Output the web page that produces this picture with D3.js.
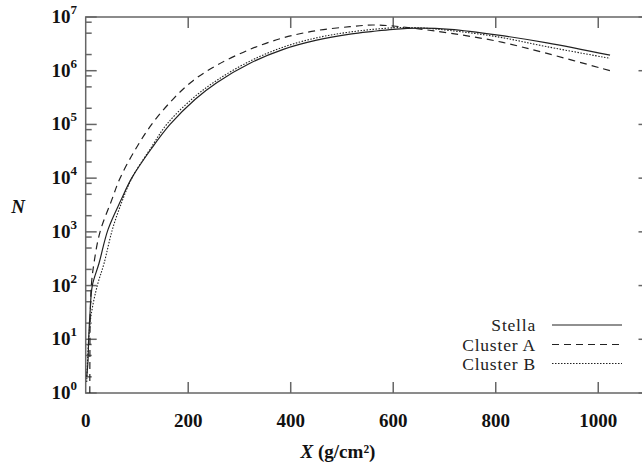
<!DOCTYPE html>
<html>
<head>
<meta charset="utf-8">
<script src="https://cdn.jsdelivr.net/npm/d3@7"></script>
<style>
  body { margin: 0; background: #fff; }
  svg { display: block; }
</style>
</head>
<body>
<div id="chart"></div>
<script>
// depth (g/cm2) and particle number N
const xStella = [2, 4.5, 5.8, 8.4, 12.9, 26, 43.5, 68.9, 89.7, 128.7, 164.5, 213.7, 255.6, 320.6, 385.6, 450.7, 515.7, 560, 600, 650, 711, 805, 900, 1023];
const nStella = [2, 4, 10, 30, 100, 260, 1100, 3900, 1.0e4, 3.6e4, 1.0e5, 2.95e5, 6.0e5, 1.38e6, 2.5e6, 3.7e6, 4.8e6, 5.4e6, 5.9e6, 6.2e6, 5.9e6, 4.6e6, 3.3e6, 1.95e6];

const xClusterA = [8, 8.2, 8.8, 11, 16, 28, 50.7, 67, 96, 128.7, 171, 210, 255.6, 320.6, 385.6, 450.7, 515.7, 560, 600, 650, 711, 802, 900, 1023];
const nClusterA = [1, 5, 25, 100, 257, 1000, 3900, 1.0e4, 3.3e4, 1.0e5, 3.0e5, 6.6e5, 1.26e6, 2.5e6, 4.1e6, 5.6e6, 6.6e6, 7.1e6, 6.8e6, 6.0e6, 5.0e6, 3.55e6, 2.1e6, 1.0e6];

const xClusterB = [2, 5.8, 11, 22.6, 35.7, 52, 70, 90, 126, 158, 207, 255.6, 320.6, 385.6, 450.7, 515.7, 600, 650, 711, 802, 900, 1023];
const nClusterB = [1.6, 10, 30, 100, 257, 1100, 3500, 1.0e4, 3.5e4, 1.0e5, 2.95e5, 6.6e5, 1.51e6, 2.75e6, 4.1e6, 5.25e6, 6.3e6, 6.3e6, 5.6e6, 4.3e6, 2.8e6, 1.7e6];

const seriesNames = ["Stella", "Cluster A", "Cluster B"];
const xTicks = [0, 200, 400, 600, 800, 1000];
const yExponents = [0, 1, 2, 3, 4, 5, 6, 7];

const width = 642, height = 470;
const margin = { left: 85.7, top: 17, right: width - 649.5, bottom: height - 393 };

const svg = d3.select("#chart").append("svg")
    .attr("width", width)
    .attr("height", height);

const x = d3.scaleLinear().domain([0, 1100]).range([margin.left, width - margin.right]);
const y = d3.scaleLog().domain([1, 1e7]).range([height - margin.bottom, margin.top]);

const axisColor = "#666";
const serif = "'Liberation Serif', 'DejaVu Serif', serif";

svg.append("clipPath").attr("id", "plot")
    .append("rect")
    .attr("x", x(0)).attr("y", y(1e7))
    .attr("width", x(1100) - x(0)).attr("height", y(1) - y(1e7));

// minor ticks at 2, 5, 8 per decade
const minorVals = [];
yExponents.slice(0, -1).forEach(e => [2, 5, 8].forEach(m => minorVals.push(m * Math.pow(10, e))));

// frame
const frame = svg.append("g").attr("stroke", axisColor).attr("stroke-width", 1.5).attr("fill", "none");
frame.append("rect")
    .attr("x", x(0)).attr("y", y(1e7))
    .attr("width", x(1100) - x(0)).attr("height", y(1) - y(1e7));

// y ticks, left and right
yExponents.forEach(e => {
    const v = Math.pow(10, e);
    frame.append("line").attr("x1", x(0)).attr("x2", x(0) + 11).attr("y1", y(v)).attr("y2", y(v));
    frame.append("line").attr("x1", x(1100)).attr("x2", x(1100) - 11).attr("y1", y(v)).attr("y2", y(v));
});
minorVals.forEach(v => {
    frame.append("line").attr("x1", x(0)).attr("x2", x(0) + 6).attr("y1", y(v)).attr("y2", y(v));
    frame.append("line").attr("x1", x(1100)).attr("x2", x(1100) - 6).attr("y1", y(v)).attr("y2", y(v));
});

// x ticks, bottom and top
xTicks.slice(1).forEach(t => {
    frame.append("line").attr("x1", x(t)).attr("x2", x(t)).attr("y1", y(1)).attr("y2", y(1) - 11);
    frame.append("line").attr("x1", x(t)).attr("x2", x(t)).attr("y1", y(1e7)).attr("y2", y(1e7) + 11);
});

// x tick labels
svg.append("g").selectAll("text")
    .data(xTicks)
    .join("text")
    .attr("x", d => x(d))
    .attr("y", 427)
    .attr("text-anchor", "middle")
    .attr("font-family", serif)
    .attr("font-weight", "bold")
    .attr("font-size", 19)
    .attr("fill", "#111")
    .text(d => d);

// y tick labels: 10^e
const yLab = svg.append("g").selectAll("text")
    .data(yExponents)
    .join("text")
    .attr("x", 77)
    .attr("y", d => y(Math.pow(10, d)) + 6)
    .attr("text-anchor", "end")
    .attr("font-family", serif)
    .attr("font-weight", "bold")
    .attr("font-size", 19)
    .attr("fill", "#111");
yLab.append("tspan").text("10");
yLab.append("tspan").attr("dy", -9).attr("font-size", 13).text(d => d);

// axis titles
svg.append("text")
    .attr("x", 18).attr("y", 213)
    .attr("text-anchor", "middle")
    .attr("font-family", serif)
    .attr("font-weight", "bold")
    .attr("font-style", "italic")
    .attr("font-size", 19)
    .attr("fill", "#111")
    .text("N");

const xt = svg.append("text")
    .attr("x", 338).attr("y", 458)
    .attr("text-anchor", "middle")
    .attr("font-family", serif)
    .attr("font-weight", "bold")
    .attr("font-size", 19)
    .attr("fill", "#111");
xt.append("tspan").attr("font-style", "italic").text("X");
xt.append("tspan").text(" (g/cm²)");

// curves
const styles = [
    { dash: null, width: 1.2 },
    { dash: "7,5", width: 1.2 },
    { dash: "1.5,1.5", width: 1.1 }
];
const series = [
    xStella.map((d, i) => [d, nStella[i]]),
    xClusterA.map((d, i) => [d, nClusterA[i]]),
    xClusterB.map((d, i) => [d, nClusterB[i]])
];

const line = d3.line()
    .x(d => x(d[0]))
    .y(d => y(d[1]))
    .curve(d3.curveCatmullRom.alpha(0.5));

svg.append("g").attr("clip-path", "url(#plot)")
    .selectAll("path")
    .data(series)
    .join("path")
    .attr("d", line)
    .attr("fill", "none")
    .attr("stroke", "#222")
    .attr("stroke-width", (d, i) => styles[i].width)
    .attr("stroke-dasharray", (d, i) => styles[i].dash);

// legend
const legY = [331, 350.5, 369.5];
seriesNames.forEach((name, i) => {
    svg.append("text")
        .attr("x", 536).attr("y", legY[i])
        .attr("text-anchor", "end")
        .attr("font-family", serif)
        .attr("font-size", 17.5)
        .attr("letter-spacing", 0.8)
        .attr("fill", "#222")
        .text(name);
    svg.append("line")
        .attr("x1", 552).attr("x2", 622)
        .attr("y1", legY[i] - 6).attr("y2", legY[i] - 6)
        .attr("stroke", "#222")
        .attr("stroke-width", styles[i].width)
        .attr("stroke-dasharray", styles[i].dash);
});
</script>
</body>
</html>
